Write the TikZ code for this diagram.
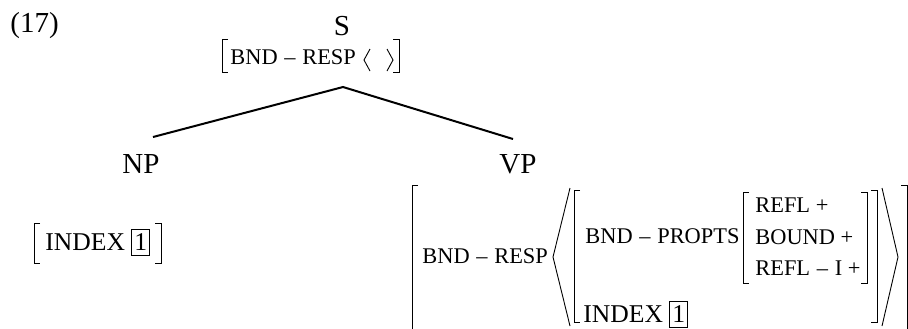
\documentclass[tikz,border=0pt]{standalone}
\usepackage{fontspec}
\setmainfont{Liberation Serif}
\usepackage{tikz}
\usetikzlibrary{positioning}

\tikzset{
  lbl/.style = {inner sep = 0pt, font = \fontsize{14.5}{17}\selectfont},
  avm/.style = {inner sep = 0pt, anchor = base west, font = \fontsize{11.2}{13}\selectfont},
  idx/.style = {inner sep = 0pt, anchor = base west, font = \fontsize{12.8}{15}\selectfont},
  brk/.style = {line width = 0.45pt},
  branch/.style = {line width = 1pt}
}
\newcommand{\lbrk}[3]{\draw[brk] (#1+6, #2) -- (#1, #2) -- (#1, #3) -- (#1+6, #3);}
\newcommand{\rbrk}[3]{\draw[brk] (#1-6, #2) -- (#1, #2) -- (#1, #3) -- (#1-6, #3);}
\newcommand{\dsh}{\hspace{0.3em}--\hspace{0.3em}}
\newcommand{\boxnum}[1]{{\setlength{\fboxsep}{1pt}\setlength{\fboxrule}{0.45pt}\fbox{\rule[-1.5pt]{0pt}{10.5pt}#1}}}

\begin{document}
\begin{tikzpicture}[x = 0.5pt, y = -0.5pt]
    \useasboundingbox (0, 0) rectangle (908, 328);

    \node[lbl, anchor = base west] (ex) at (10, 32) {(17)};
    \node[lbl, anchor = base] (s) at (342, 35) {S};
    \node[lbl, anchor = base] (np) at (141, 173) {NP};
    \node[lbl, anchor = base] (vp) at (518, 173) {VP};

    \coordinate (top) at (343, 87);
    \coordinate (np-top) at (153, 137);
    \coordinate (vp-top) at (513, 139);
    \draw[branch] (np-top) -- (top) -- (vp-top);

    \lbrk{222}{39}{72}
    \node[avm] (s-resp) at (230, 64) {BND\dsh RESP};
    \draw[brk] (370, 49) -- (364, 60) -- (370, 71);
    \draw[brk] (387, 49) -- (393, 60) -- (387, 71);
    \rbrk{399}{39}{72}

    \lbrk{34}{223}{263}
    \node[idx] (np-index) at (45, 250) {INDEX \boxnum{1}};
    \rbrk{161}{223}{263}

    \lbrk{412}{185}{340}
    \rbrk{907}{185}{340}
    \node[avm] (vp-resp) at (422, 263) {BND\dsh RESP};
    \draw[brk] (570, 188) -- (553, 257) -- (570, 326);
    \lbrk{574}{190}{322}
    \node[avm] (vp-propts) at (585, 243) {BND\dsh PROPTS};
    \lbrk{743}{192}{283}
    \node[avm] (refl) at (755, 212) {REFL +};
    \node[avm] (bound) at (755, 244) {BOUND +};
    \node[avm] (refl-i) at (755, 275) {REFL\dsh I +};
    \rbrk{867}{192}{283}
    \rbrk{877}{190}{322}
    \draw[brk] (882, 188) -- (898, 257) -- (882, 326);
    \node[idx] (vp-index) at (583, 322) {INDEX \boxnum{1}};
\end{tikzpicture}
\end{document}
